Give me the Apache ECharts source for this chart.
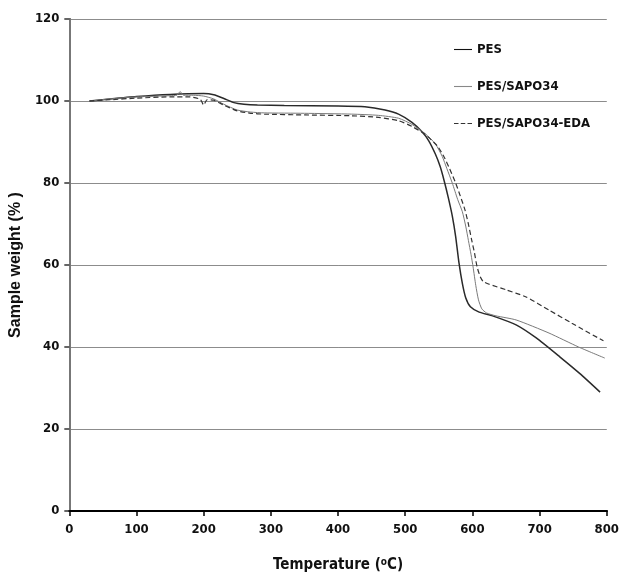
<!DOCTYPE html>
<html>
<head>
<meta charset="utf-8">
<script src="https://cdn.jsdelivr.net/npm/echarts@6/dist/echarts.min.js"></script>
<style>
  html, body { margin: 0; padding: 0; background: #fff; }
  #main { width: 622px; height: 581px; }
</style>
</head>
<body>
<div id="main"></div>
<script>
// TGA curves: temperature (°C) and sample weight (%)
var pesT = [30, 60, 100, 150, 200, 215, 230, 245, 260, 280, 320, 400, 440, 470, 490, 510, 525, 535, 545, 552, 558, 564, 570, 575, 580, 585, 590, 597, 610, 630, 665, 695, 730, 760, 790];
var pesW = [100, 100.5, 101.1, 101.6, 101.8, 101.5, 100.6, 99.6, 99.2, 99.0, 98.9, 98.8, 98.6, 97.8, 96.8, 94.8, 92.5, 90.3, 87.0, 84.0, 80.5, 76.5, 72.0, 67.0, 60.5, 55.5, 52.0, 49.8, 48.5, 47.6, 45.4, 42.2, 37.6, 33.5, 29];

var sapoT = [30, 60, 100, 150, 160, 165, 170, 185, 200, 215, 230, 250, 270, 290, 350, 420, 460, 490, 510, 530, 545, 555, 562, 570, 578, 585, 590, 594, 598, 601, 605, 609, 614, 621, 635, 665, 714, 758, 797];
var sapoW = [100, 100.5, 101, 101.3, 101.4, 102.3, 101.4, 101.4, 101.2, 100.5, 99.2, 97.8, 97.3, 97.1, 97.0, 96.8, 96.5, 95.8, 94.3, 92.0, 89.5, 86.5, 83.5, 80.0, 76.0, 73.0, 69.5, 66.0, 62.5, 59.5, 55.0, 51.5, 49.3, 48.3, 47.6, 46.6, 43.4, 40.0, 37.3];

var edaT = [30, 60, 100, 150, 180, 195, 200, 205, 215, 230, 250, 270, 290, 350, 420, 460, 490, 510, 530, 548, 558, 566, 575, 582, 589, 594, 599, 603, 607, 612, 616, 625, 651, 680, 714, 748, 795];
var edaW = [100, 100.3, 100.7, 101.0, 101.0, 100.4, 99.0, 100.3, 100.2, 99.0, 97.6, 97.0, 96.8, 96.6, 96.4, 96.0, 95.2, 93.8, 91.8, 89.0, 86.3, 83.5, 80.0, 76.8, 73.4, 70.0, 66.0, 63.0, 59.5, 57.0, 56.0, 55.3, 53.9, 52.2, 49.0, 45.8, 41.5];

var seriesNames = ['PES', 'PES/SAPO34', 'PES/SAPO34-EDA'];

function pairs(xs, ys) {
  var out = [];
  for (var i = 0; i < xs.length; i++) out.push([xs[i], ys[i]]);
  return out;
}

var chart = echarts.init(document.getElementById('main'), null, { renderer: 'canvas' });

var labelFont = 'DejaVu Sans Condensed';
var solidIcon = 'path://M0,0H20V1.2H0Z';
var dashIcon = 'path://M0,0H5V1.2H0Z M7.5,0H12.5V1.2H7.5Z M15,0H20V1.2H15Z';

var option = {
  backgroundColor: '#fff',
  animation: false,
  grid: { left: 62, right: 13, top: 19, bottom: 70 },
  legend: {
    orient: 'vertical',
    left: 449,
    top: 38,
    itemWidth: 18,
    itemHeight: 14,
    itemGap: 24,
    textStyle: { fontFamily: labelFont, fontWeight: 'bold', fontSize: 13, color: '#111' },
    data: [
      { name: seriesNames[0], icon: solidIcon, itemStyle: { color: '#111' } },
      { name: seriesNames[1], icon: solidIcon, itemStyle: { color: '#888' } },
      { name: seriesNames[2], icon: dashIcon, itemStyle: { color: '#333' } }
    ]
  },
  xAxis: [{
    type: 'value',
    min: 0,
    max: 800,
    interval: 100,
    name: 'Temperature ({sup|o}C)',
    nameLocation: 'middle',
    nameGap: 46,
    nameTextStyle: {
      fontFamily: labelFont, fontWeight: 'bold', fontSize: 15, color: '#111',
      rich: { sup: { fontFamily: labelFont, fontWeight: 'bold', fontSize: 10, color: '#111', verticalAlign: 'top', padding: [0, 0, 7, 0] } }
    },
    axisLine: { show: true, onZero: false, lineStyle: { color: '#000', width: 2 } },
    axisTick: { show: true, length: 5, lineStyle: { color: '#000', width: 1.5 } },
    axisLabel: { fontFamily: labelFont, fontWeight: 'bold', fontSize: 13, color: '#111', margin: 12 },
    splitLine: { show: false }
  }, {
    type: 'value',
    position: 'top',
    min: 0,
    max: 800,
    interval: 100,
    axisLine: { show: true, lineStyle: { color: '#000', width: 2 } },
    axisTick: { show: false },
    axisLabel: { show: false },
    splitLine: { show: false }
  }],
  yAxis: [{
    type: 'value',
    min: 0,
    max: 120,
    interval: 20,
    name: 'Sample weight (% )',
    nameLocation: 'middle',
    nameGap: 36,
    nameTextStyle: { fontFamily: 'Liberation Sans', fontWeight: 'bold', fontSize: 16, color: '#111' },
    axisLine: { show: true, onZero: false, lineStyle: { color: '#666', width: 2 } },
    axisTick: { show: true, length: 5, lineStyle: { color: '#333', width: 1.5 } },
    axisLabel: { fontFamily: labelFont, fontWeight: 'bold', fontSize: 13, color: '#111', margin: 10 },
    splitLine: { show: true, lineStyle: { color: '#8c8c8c', width: 1 } }
  }, {
    type: 'value',
    position: 'right',
    min: 0,
    max: 120,
    interval: 20,
    axisLine: { show: true, lineStyle: { color: '#777', width: 2 } },
    axisTick: { show: false },
    axisLabel: { show: false },
    splitLine: { show: false }
  }],
  series: [{
    name: seriesNames[0],
    type: 'line',
    symbol: 'none',
    smooth: 0.2,
    data: pairs(pesT, pesW),
    lineStyle: { color: '#2a2a2a', width: 1.5 },
    itemStyle: { color: '#2a2a2a' }
  }, {
    name: seriesNames[1],
    type: 'line',
    symbol: 'none',
    smooth: 0.2,
    data: pairs(sapoT, sapoW),
    lineStyle: { color: '#7a7a7a', width: 1 },
    itemStyle: { color: '#7a7a7a' }
  }, {
    name: seriesNames[2],
    type: 'line',
    symbol: 'none',
    smooth: 0.2,
    data: pairs(edaT, edaW),
    lineStyle: { color: '#333', width: 1.2, type: [5, 3] },
    itemStyle: { color: '#333' }
  }]
};

chart.setOption(option);
</script>
</body>
</html>
